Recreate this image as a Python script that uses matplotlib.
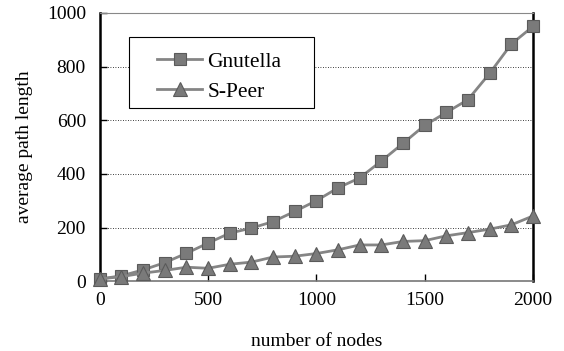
import matplotlib.pyplot as plt
from matplotlib.patches import Rectangle

nodes = [0, 100, 200, 300, 400, 500, 600, 700, 800, 900, 1000,
         1100, 1200, 1300, 1400, 1500, 1600, 1700, 1800, 1900, 2000]
gnutella = [8, 20, 42, 69, 104, 142, 179, 198, 222, 260, 300,
            348, 385, 448, 514, 581, 629, 677, 775, 884, 950]
speer = [8, 17, 30, 40, 52, 48, 63, 71, 90, 93, 103,
         117, 135, 135, 148, 151, 169, 181, 194, 210, 243]

plt.rcParams['font.family'] = ['Liberation Serif', 'DejaVu Serif']

fig = plt.figure(figsize=(5.64, 3.51), dpi=100)
ax = fig.add_axes([0.177, 0.199, 0.768, 0.764])

ax.plot(nodes, gnutella, color='#858585', linewidth=2, marker='s', markersize=8.5,
        markerfacecolor='#7a7a7a', markeredgecolor='#5a5a5a', markeredgewidth=0.8,
        clip_on=False, label='Gnutella', zorder=3)
ax.plot(nodes, speer, color='#858585', linewidth=2, marker='^', markersize=10.5,
        markerfacecolor='#7a7a7a', markeredgecolor='#5a5a5a', markeredgewidth=0.8,
        clip_on=False, label='S-Peer', zorder=3)

ax.set_xlim(0, 2000)
ax.set_ylim(0, 1000)
ax.set_xticks([0, 500, 1000, 1500, 2000])
ax.set_yticks([0, 200, 400, 600, 800, 1000])
ax.tick_params(direction='in', length=5, width=1, labelsize=14, pad=8, colors='black')
ax.tick_params(axis='y', pad=10)

for y in [200, 400, 600, 800]:
    ax.axhline(y, color='black', linestyle=(0, (1, 2)), linewidth=0.6, zorder=1)

ax.spines['left'].set_linewidth(1.8)
ax.spines['right'].set_linewidth(1.8)
ax.spines['top'].set_color('#888888')
ax.spines['bottom'].set_color('#777777')
ax.spines['bottom'].set_linewidth(1.2)

ax.set_xlabel('number of nodes', fontsize=14, labelpad=17)
ax.set_ylabel('average path length', fontsize=14, labelpad=10)

# legend box drawn separately so the padding matches the original
ax.add_patch(Rectangle((0.067, 0.646), 0.427, 0.264, transform=ax.transAxes,
                       facecolor='white', edgecolor='black', linewidth=0.8, zorder=4))
leg = ax.legend(loc='upper left', bbox_to_anchor=(0.132, 0.855), fontsize=15.5,
                handlelength=2.1, frameon=False, borderpad=0, borderaxespad=0,
                labelspacing=0.45, handletextpad=0.25)
leg.set_zorder(5)

fig.savefig('out.png', dpi=100)
